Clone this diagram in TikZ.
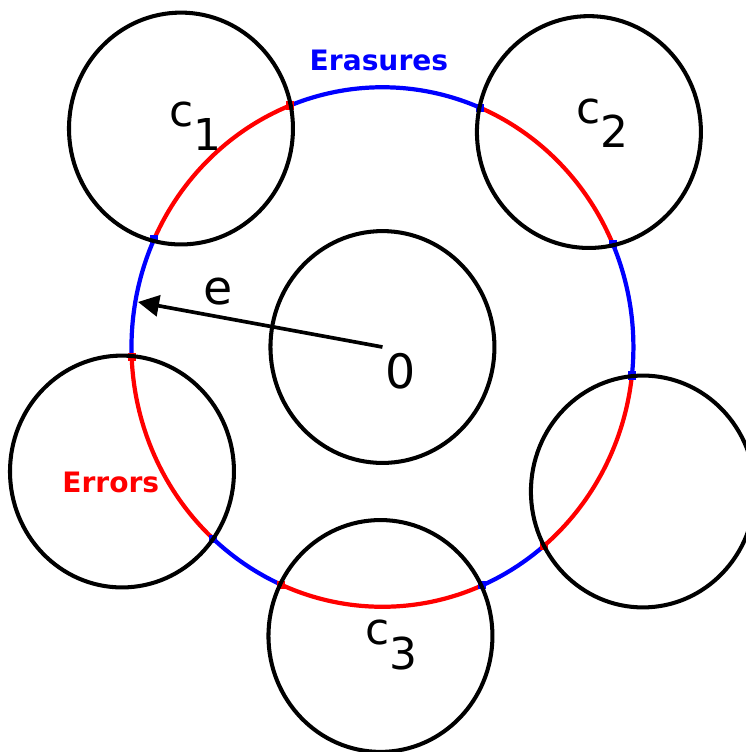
\documentclass[tikz,border=0pt]{standalone}
\usepackage{fontspec}
\setmainfont{DejaVu Sans}
\usetikzlibrary{arrows.meta}
\begin{document}
\begin{tikzpicture}[x=0.02cm,y=0.0207cm,
  disc/.style={draw=black,line width=2.3pt},
  codeword/.style={inner sep=0pt,anchor=base west,font=\fontsize{25}{29}\selectfont},
  symb/.style={inner sep=0pt,font=\fontsize{27}{31}\selectfont},
  note/.style={inner sep=0pt,font=\bfseries\fontsize{16}{19}\selectfont}]
\path[use as bounding box] (0,0) rectangle (746,726.6);
\coordinate (o) at (382.5,391.3);
\coordinate (c1) at (181,602.4);
\coordinate (c2) at (589,599.0);
\coordinate (c3) at (380.5,112.1);
\coordinate (cl) at (122,271.0);
\coordinate (cr) at (643,251.7);
\coordinate (tip) at (138,434.8);
\begin{scope}[shift={(o)},line width=2.4pt]
\foreach \a/\b/\col in {23.4/67.1/red,67.1/111.6/blue,111.6/155.5/red,155.5/182.2/blue,
  182.2/227.6/red,227.6/246.2/blue,246.2/293.4/red,293.4/310/blue,310/353.7/red,353.7/383.4/blue}{
  \draw[\col] (\a:251) arc[start angle=\a,end angle=\b,radius=251];
  \fill[\col] (\a:251) +(-4,-3.9) rectangle +(4,3.9);
  \fill[\col] (\b:251) +(-4,-3.9) rectangle +(4,3.9);
}
\end{scope}
\draw[disc] (o) circle (112);
\draw[disc] (c1) circle (112);
\draw[disc] (c2) circle (112);
\draw[disc] (c3) circle (112);
\draw[disc] (cl) circle (112);
\draw[disc] (cr) circle (112);
\draw[line width=2.1pt,-{Triangle[length=0.42cm,width=0.42cm]}] (o) -- (tip);
\node[note,text=blue] (erasures) at (379,668.6) {Erasures};
\node[note,text=red] (errors) at (110.8,260.4) {Errors};
\node[codeword] (lab1) at (169,604.2) {c\lower.55em\hbox{1}};
\node[codeword] (lab2) at (576,607.7) {c\lower.55em\hbox{2}};
\node[codeword] (lab3) at (365,103.4) {c\lower.55em\hbox{3}};
\node[symb] (zero) at (400.5,367.6) {0};
\node[symb] (elab) at (218.5,444.9) {e};
\end{tikzpicture}
\end{document}
